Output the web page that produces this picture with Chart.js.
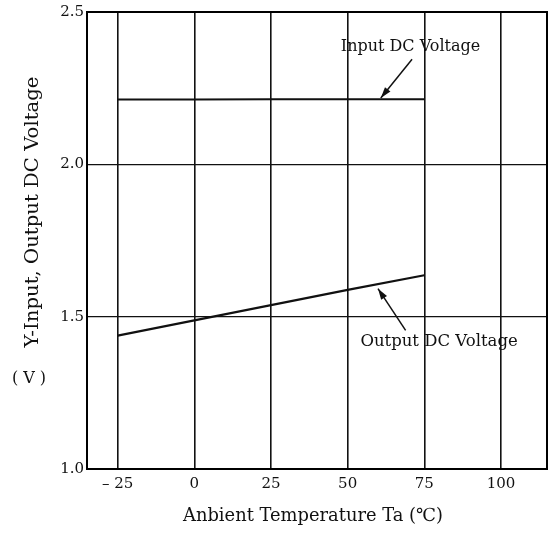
<!DOCTYPE html>
<html lang="en">
<head>
<meta charset="UTF-8">
<title>DC Voltage vs Ambient Temperature</title>
<script src="https://cdn.jsdelivr.net/npm/chart.js"></script>
<style>
    html, body { margin: 0; padding: 0; background: #fff; }
    #chartCanvas { display: block; }
</style>
</head>
<body>
<canvas id="chartCanvas" width="549" height="542"></canvas>
<script>
// data
var temps = [-25, 0, 25, 50, 75];
var inputVolts = [2.213, 2.213, 2.214, 2.214, 2.214];
var outputVolts = [1.438, 1.488, 1.538, 1.588, 1.636];
var xTicks = [-25, 0, 25, 50, 75, 100];
var yTicks = [1.0, 1.5, 2.0, 2.5];

var serif = '"DejaVu Serif", "Liberation Serif", serif';

// frame, titles and the two arrow labels
var extras = {
    id: 'extras',
    afterDraw: function(chart) {
        var ctx = chart.ctx;
        var a = chart.chartArea;
        var xs = chart.scales.x, ys = chart.scales.y;
        ctx.save();
        ctx.strokeStyle = '#000';
        ctx.lineWidth = 2;
        ctx.strokeRect(a.left, a.top, a.right - a.left, a.bottom - a.top);

        ctx.fillStyle = '#111';
        ctx.textAlign = 'center';
        ctx.textBaseline = 'middle';

        // y title
        ctx.save();
        ctx.translate(33, 212);
        ctx.rotate(-Math.PI / 2);
        ctx.font = '18px ' + serif;
        var t = 'Y-Input, Output DC Voltage';
        var w = ctx.measureText(t).width;
        ctx.scale(271 / w, 1);
        ctx.fillText(t, 0, 0);
        ctx.restore();
        ctx.font = '16px ' + serif;
        ctx.fillText('( V )', 29, 379);

        // x title
        ctx.save();
        ctx.translate(313, 516);
        ctx.font = '18px ' + serif;
        var t2 = 'Anbient Temperature Ta (\u2103)';
        var w2 = ctx.measureText(t2).width;
        ctx.scale(260 / w2, 1);
        ctx.fillText(t2, 0, 0);
        ctx.restore();

        // annotations
        ctx.font = '16px ' + serif;
        ctx.fillText('Input DC Voltage', xs.getPixelForValue(70.5), ys.getPixelForValue(2.387));
        ctx.font = '16.5px ' + serif;
        ctx.fillText('Output DC Voltage', xs.getPixelForValue(79.8), ys.getPixelForValue(1.417));
        arrow(ctx, xs.getPixelForValue(71), ys.getPixelForValue(2.345), xs.getPixelForValue(60.8), ys.getPixelForValue(2.218));
        arrow(ctx, xs.getPixelForValue(68.9), ys.getPixelForValue(1.455), xs.getPixelForValue(59.9), ys.getPixelForValue(1.592));
        ctx.restore();
    }
};

function arrow(ctx, x1, y1, x2, y2) {
    ctx.save();
    ctx.strokeStyle = '#111';
    ctx.fillStyle = '#111';
    ctx.lineWidth = 1.5;
    ctx.beginPath();
    ctx.moveTo(x1, y1);
    ctx.lineTo(x2, y2);
    ctx.stroke();
    var ang = Math.atan2(y2 - y1, x2 - x1);
    var len = 11, half = 3.5;
    ctx.beginPath();
    ctx.moveTo(x2, y2);
    ctx.lineTo(x2 - len * Math.cos(ang) + half * Math.sin(ang), y2 - len * Math.sin(ang) - half * Math.cos(ang));
    ctx.lineTo(x2 - len * Math.cos(ang) - half * Math.sin(ang), y2 - len * Math.sin(ang) + half * Math.cos(ang));
    ctx.closePath();
    ctx.fill();
    ctx.restore();
}

function toPoints(xv, yv) {
    return xv.map(function(x, i) { return { x: x, y: yv[i] }; });
}

new Chart(document.getElementById('chartCanvas').getContext('2d'), {
    type: 'line',
    data: {
        datasets: [{
            label: 'Input DC Voltage',
            data: toPoints(temps, inputVolts),
            borderColor: '#111',
            borderWidth: 2,
            pointRadius: 0,
            tension: 0
        }, {
            label: 'Output DC Voltage',
            data: toPoints(temps, outputVolts),
            borderColor: '#111',
            borderWidth: 2.2,
            pointRadius: 0,
            tension: 0
        }]
    },
    options: {
        responsive: false,
        animation: false,
        layout: { padding: { top: 11, right: 2, left: 0, bottom: 0 } },
        plugins: { legend: { display: false }, tooltip: { enabled: false } },
        scales: {
            x: {
                type: 'linear',
                min: -35,
                max: 115,
                afterBuildTicks: function(s) { s.ticks = xTicks.map(function(v) { return { value: v }; }); },
                afterFit: function(s) { s.height = 73; },
                grid: { color: '#111', lineWidth: 1.6, drawTicks: false },
                border: { display: false },
                ticks: {
                    color: '#111',
                    padding: 6,
                    maxRotation: 0,
                    font: { family: serif, size: 15 },
                    callback: function(v) { return v < 0 ? '\u2013 ' + Math.abs(v) : String(v); }
                }
            },
            y: {
                min: 1.0,
                max: 2.5,
                afterBuildTicks: function(s) { s.ticks = yTicks.map(function(v) { return { value: v }; }); },
                afterFit: function(s) { s.width = 87; },
                grid: { color: '#111', lineWidth: 1.2, drawTicks: false },
                border: { display: false },
                ticks: {
                    color: '#111',
                    padding: 3,
                    font: { family: serif, size: 15 },
                    callback: function(v) { return v.toFixed(1); }
                }
            }
        }
    },
    plugins: [extras]
});
</script>
</body>
</html>
